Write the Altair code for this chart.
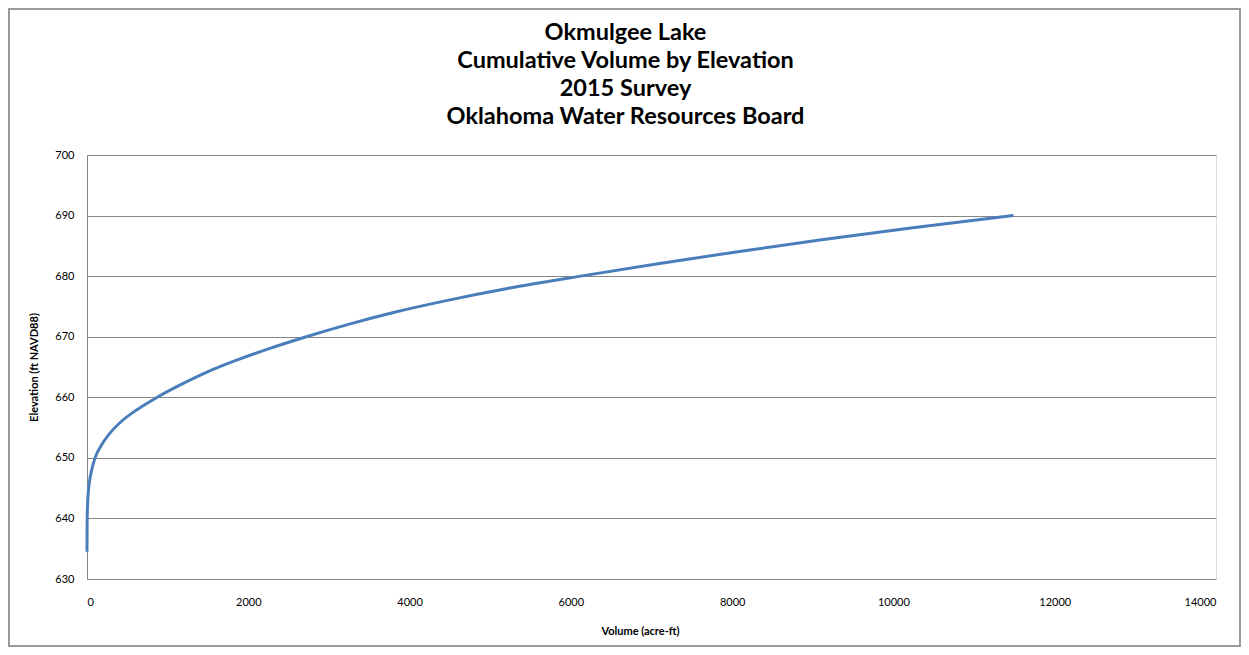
import altair as alt
import pandas as pd

title_lines = [
    "Okmulgee Lake",
    "Cumulative Volume by Elevation",
    "2015 Survey",
    "Oklahoma Water Resources Board",
]

elevation = [634.5, 636, 638, 640, 642, 644, 646, 648, 650, 652, 654, 656, 658,
             660, 662, 664, 666, 668, 670, 672, 674, 676, 678, 680, 682, 684,
             686, 688, 690]
volume = [0, 0.3, 1, 2.5, 6, 14, 30, 58, 100, 175, 280, 425, 625,
          870, 1150, 1460, 1830, 2250, 2720, 3230, 3800, 4470, 5230, 6120,
          7060, 8050, 9110, 10240, 11490]

x_ticks = [0, 2000, 4000, 6000, 8000, 10000, 12000, 14000]
y_ticks = [630, 640, 650, 660, 670, 680, 690, 700]

df = pd.DataFrame({"Volume": volume, "Elevation": elevation})

W, H = 1129, 424
FONT = "Lato"

line = alt.Chart(df).mark_line(
    color="#4a7ebb", strokeWidth=3, interpolate="monotone"
).encode(
    x=alt.X(
        "Volume:Q",
        scale=alt.Scale(domain=[0, 14000], nice=False),
        axis=alt.Axis(
            title="Volume (acre-ft)",
            values=x_ticks,
            format="d",
            grid=False,
            ticks=False,
            domain=False,
            labelPadding=17,
            titlePadding=18,
            labelFontSize=11,
            titleFontSize=11,
            labelFont=FONT,
            titleFont=FONT,
            titleFontWeight="bold",
            labelColor="#000000",
            titleColor="#000000",
            titleX=553,
        ),
    ),
    y=alt.Y(
        "Elevation:Q",
        scale=alt.Scale(domain=[630, 700], nice=False, zero=False),
        axis=alt.Axis(
            title="Elevation (ft NAVD88)",
            values=y_ticks,
            grid=True,
            gridColor="#868686",
            gridWidth=1,
            ticks=False,
            domain=True,
            domainColor="#868686",
            labelPadding=13,
            titlePadding=15,
            labelFontSize=11,
            titleFontSize=11,
            labelFont=FONT,
            titleFont=FONT,
            titleFontWeight="bold",
            labelColor="#000000",
            titleColor="#000000",
        ),
    ),
    order=alt.Order("Elevation:Q"),
)

frame = alt.Chart(alt.InlineData(values=[{"k": 1}])).mark_rect(
    fill=None, stroke="#9a9a9a", strokeWidth=2
).encode(
    x=alt.value(-78),
    x2=alt.value(W + 24),
    y=alt.value(-146),
    y2=alt.value(H + 67),
)

chart = alt.layer(frame, line).properties(
    width=W,
    height=H,
    title=alt.TitleParams(
        text=title_lines,
        font=FONT,
        fontSize=23.5,
        fontWeight="bold",
        color="#000000",
        lineHeight=28,
        anchor="middle",
        dx=-26,
        offset=-120,
    ),
    autosize=alt.AutoSizeParams(type="none"),
    padding={"left": 79, "top": 147, "right": 25, "bottom": 68},
).configure_view(stroke=None).configure(background="white")

chart.save("out.html", embed_options={"renderer": "svg", "actions": False})
